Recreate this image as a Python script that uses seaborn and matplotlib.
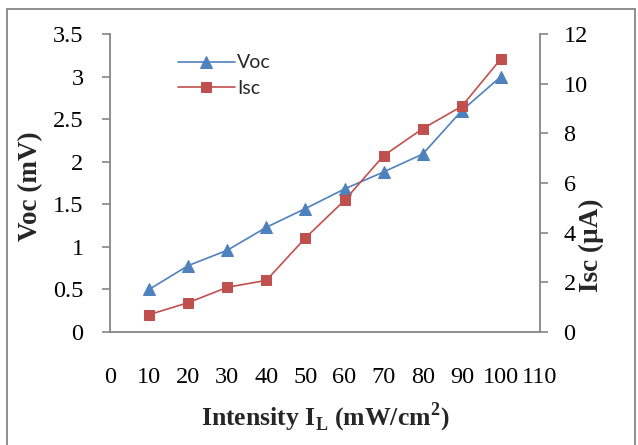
import matplotlib
matplotlib.use("Agg")
import matplotlib.pyplot as plt
import matplotlib.patches as mpatches
import seaborn as sns
import pandas as pd

sns.set_style("white")

intensity = [10, 20, 30, 40, 50, 60, 70, 80, 90, 100]
voc = [0.50, 0.78, 0.96, 1.23, 1.45, 1.68, 1.88, 2.09, 2.60, 3.00]
isc = [0.70, 1.18, 1.80, 2.08, 3.79, 5.30, 7.10, 8.19, 9.09, 11.0]

df = pd.DataFrame({"intensity": intensity, "Voc": voc, "Isc": isc})

blue = "#4F81BD"
red = "#C0504D"
grey = "#868686"
serif = ["Liberation Serif", "DejaVu Serif"]

fig = plt.figure(figsize=(6.38, 4.45), dpi=100)
ax = fig.add_axes([110 / 638, 113 / 445, 430 / 638, 298 / 445])
ax2 = ax.twinx()

sns.lineplot(data=df, x="intensity", y="Voc", ax=ax, color=blue, marker="^",
             markersize=8.5, markeredgecolor=blue, linewidth=1.2, label="Voc", legend=False)
sns.lineplot(data=df, x="intensity", y="Isc", ax=ax2, color=red, marker="s",
             markersize=7.5, markeredgecolor=red, linewidth=1.2, label="Isc", legend=False)

ax.set_xlim(0, 110)
ax.set_xticks(range(0, 111, 10))
ax.set_ylim(0, 3.5)
ax.set_yticks([0, 0.5, 1, 1.5, 2, 2.5, 3, 3.5])
ax.set_yticklabels(["0", "0.5", "1", "1.5", "2", "2.5", "3", "3.5"])
ax2.set_ylim(0, 12)
ax2.set_yticks(range(0, 13, 2))

for a in (ax, ax2):
    a.spines["top"].set_visible(False)
    for side in ("left", "right", "bottom"):
        a.spines[side].set_color(grey)
        a.spines[side].set_linewidth(1.3)
    a.tick_params(colors=grey, length=6, width=1.2, labelcolor="black")
    for lbl in a.get_xticklabels() + a.get_yticklabels():
        lbl.set_fontfamily(serif)
        lbl.set_fontsize(17.5)
ax.spines["right"].set_visible(False)
ax2.spines["left"].set_visible(False)
ax2.spines["bottom"].set_visible(False)
ax.tick_params(axis="x", pad=19)
ax.tick_params(axis="y", pad=13, left=True)
ax2.tick_params(axis="y", pad=11, right=True)

ax.set_xlabel("Intensity I$_\\mathregular{L}$ (mW/cm$^\\mathregular{2}$)", fontfamily=serif,
              fontsize=18.5, fontweight="bold", labelpad=9)
ax.set_ylabel("Voc (mV)", fontfamily=serif, fontsize=19.5, fontweight="bold")
ax.yaxis.set_label_coords(-0.155, 0.49)
ax2.set_ylabel("Isc (µA)", fontfamily=serif, fontsize=19.5, fontweight="bold")
ax2.yaxis.set_label_coords(1.09, 0.29)

handles = ax.get_lines()[:1] + ax2.get_lines()[:1]
leg = ax.legend(handles, ["Voc", "Isc"], loc="upper left", bbox_to_anchor=(0.118, 0.99),
                frameon=False, prop={"family": "Lato", "size": 14},
                handlelength=2.9, handletextpad=0.12, labelspacing=0.45)

fig.patches.append(mpatches.Rectangle((7 / 638, -5 / 445), 628 / 638, 441 / 445,
                                      transform=fig.transFigure, fill=False,
                                      edgecolor=grey, linewidth=1.3))

fig.savefig("out.png", dpi=100)
